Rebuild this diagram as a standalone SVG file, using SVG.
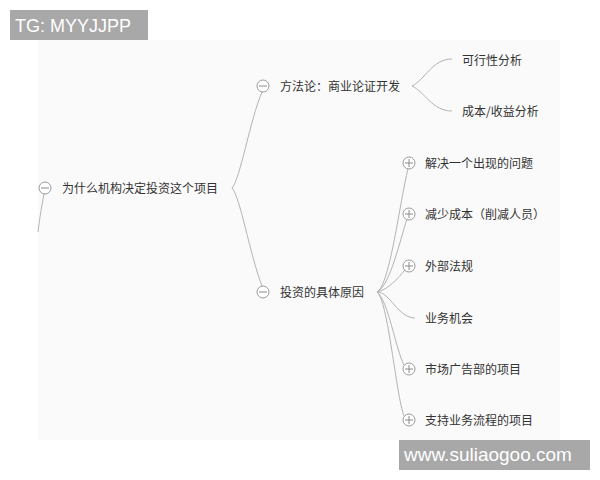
<svg xmlns="http://www.w3.org/2000/svg" width="600" height="480" viewBox="0 0 600 480">
<style>
.t{font-family:"Noto Sans CJK SC","Liberation Sans",sans-serif;font-size:12px;fill:#333}
.w{font-family:"Liberation Sans",Arial,sans-serif;fill:#fff}
.c{fill:none;stroke:#b3b3b3;stroke-width:1}
.k{fill:#fff;stroke:#9a9a9a;stroke-width:1}
.s{stroke:#8a8a8a;stroke-width:1}
</style>
<defs>
<g id="minus"><circle class="k" r="6"/><line class="s" x1="-4" y1="0" x2="4" y2="0"/></g>
<g id="plus"><circle class="k" r="6"/><line class="s" x1="-4" y1="0" x2="4" y2="0"/><line class="s" x1="0" y1="-4" x2="0" y2="4"/></g>
</defs>
<rect x="0" y="0" width="600" height="480" fill="#fff"/>
<rect x="38" y="40" width="522" height="400" fill="#fafafa"/>
<g id="connectors">
<path class="c" d="M44,194 C42,205 40,215 38,232"/>
<path class="c" d="M232,188 C240,180 250,120 262,92"/>
<path class="c" d="M232,188 C240,196 250,255 262,286"/>
<path class="c" d="M412,86 C425,80 432,59 452,59"/>
<path class="c" d="M412,86 C425,92 432,111 452,111"/>
<path class="c" d="M377,292 C390,285 400,200 408,169"/>
<path class="c" d="M377,292 C390,286 400,240 407,219"/>
<path class="c" d="M377,292 C388,290 398,278 405,270"/>
<path class="c" d="M377,292 C390,292 398,318 415,318"/>
<path class="c" d="M377,292 C388,300 396,350 404,365"/>
<path class="c" d="M377,292 C388,300 396,395 404,416"/>
</g>
<g id="root"><use href="#minus" x="45" y="188"/><text class="t" x="62" y="192.5">为什么机构决定投资这个项目</text></g>
<g id="n1"><use href="#minus" x="263" y="86"/><text class="t" x="280" y="90.5">方法论：商业论证开发</text></g>
<g id="n1a"><text class="t" x="462" y="65">可行性分析</text></g>
<g id="n1b"><text class="t" x="462" y="116">成本/收益分析</text></g>
<g id="n2"><use href="#minus" x="263" y="292"/><text class="t" x="280" y="296.5">投资的具体原因</text></g>
<g id="n2a"><use href="#plus" x="409" y="163"/><text class="t" x="425" y="167.5">解决一个出现的问题</text></g>
<g id="n2b"><use href="#plus" x="409" y="214"/><text class="t" x="425" y="218.5">减少成本（削减人员）</text></g>
<g id="n2c"><use href="#plus" x="409" y="266"/><text class="t" x="425" y="270.5">外部法规</text></g>
<g id="n2d"><text class="t" x="425" y="322.5">业务机会</text></g>
<g id="n2e"><use href="#plus" x="409" y="369"/><text class="t" x="425" y="373.5">市场广告部的项目</text></g>
<g id="n2f"><use href="#plus" x="409" y="420"/><text class="t" x="425" y="424.5">支持业务流程的项目</text></g>
<g id="wm1"><rect x="10" y="10" width="138" height="30" fill="#a8a8a8"/><text class="w" x="15" y="32" font-size="18">TG: MYYJJPP</text></g>
<g id="wm2"><rect x="399" y="440" width="191" height="30" fill="#a8a8a8"/><text class="w" x="404" y="461" font-size="19">www.suliaogoo.com</text></g>
</svg>
